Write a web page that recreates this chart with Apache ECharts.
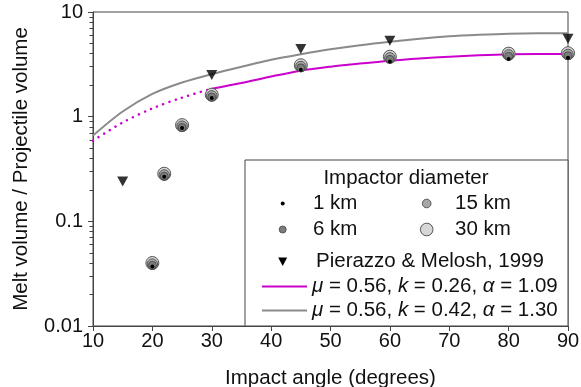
<!DOCTYPE html>
<html>
<head>
<meta charset="utf-8">
<script src="https://cdn.jsdelivr.net/npm/echarts@6/dist/echarts.min.js"></script>
<style>
  html, body { margin: 0; padding: 0; background: #fff; }
  #chart { width: 581px; height: 387px; }
</style>
</head>
<body>
<div id="chart"></div>
<script>
// simulation angles (degrees)
const simAngles = [20, 22, 25, 30, 45, 60, 80, 90];
// melt volume / projectile volume for each impactor diameter
const melt30km = [0.040, 0.285, 0.83, 1.62, 3.10, 3.74, 4.00, 4.04];
const melt15km = [0.039, 0.277, 0.81, 1.58, 3.01, 3.64, 3.89, 3.93];
const melt6km  = [0.038, 0.270, 0.79, 1.54, 2.93, 3.53, 3.78, 3.82];
const melt1km  = [0.037, 0.266, 0.78, 1.51, 2.80, 3.37, 3.56, 3.66];

// Pierazzo & Melosh, 1999
const pmAngles = [15, 30, 45, 60, 90];
const pmMelt   = [0.24, 2.50, 4.43, 5.32, 5.56];

// fitted curves
const fitAngles = [10, 15, 20, 25, 30, 35, 40, 45, 50, 55, 60, 65, 70, 75, 80, 85, 90];
const fitMagenta = [0.59, 0.88, 1.20, 1.52, 1.85, 2.10, 2.42, 2.75, 3.00, 3.22, 3.43, 3.60, 3.74, 3.86, 3.95, 3.98, 3.98];
const fitGray    = [0.66, 1.12, 1.65, 2.12, 2.55, 3.00, 3.50, 3.95, 4.40, 4.82, 5.20, 5.55, 5.85, 6.05, 6.20, 6.25, 6.25];
const dottedUpTo = 30;

const yMinor = [0.02, 0.03, 0.04, 0.05, 0.06, 0.07, 0.08, 0.09,
                0.2, 0.3, 0.4, 0.5, 0.6, 0.7, 0.8, 0.9,
                2, 3, 4, 5, 6, 7, 8, 9];

const nameMagenta = 'μ = 0.56, k = 0.26, α = 1.09';
const nameGray = 'μ = 0.56, k = 0.42, α = 1.30';

const FONT = 'Liberation Sans, Arial, Helvetica, sans-serif';
const AXIS = '#444';
const TXT = '#111';
const MAGENTA = '#cc00cc';
const GRAY = '#8a8a8a';

// circle look for each impactor size: [fill, border, borderWidth]
const look30 = ['#d6d6d6', '#555', 1];
const look15 = ['#a8a8a8', '#555', 1];
const look6  = ['#7c7c7c', '#444', 0.8];
const look1  = ['#000', '#000', 0];

const pairs = (xs, ys) => xs.map((x, i) => [x, ys[i]]);
const fitM = pairs(fitAngles, fitMagenta);

const chart = echarts.init(document.getElementById('chart'));

const circleSeries = (name, vals, size, look) => ({
  name: name,
  type: 'scatter',
  data: pairs(simAngles, vals),
  symbol: 'circle',
  symbolSize: size,
  itemStyle: { color: look[0], borderColor: look[1], borderWidth: look[2], opacity: 1 },
  z: 5
});

const tri = 'path://M0,0 L10,0 L5,9 Z';

// legend block (drawn as graphic, the two fit lines use a real legend)
const keyText = (t, x, y) => ({ type: 'text', x: x, y: y, z: 11, silent: true,
  style: { text: t, fontFamily: FONT, fontSize: 20.5, fill: TXT, verticalAlign: 'middle' } });
const keyDot = (x, y, r, look) => ({ type: 'circle', z: 11, silent: true,
  shape: { cx: x, cy: y, r: r },
  style: { fill: look[0], stroke: look[2] ? look[1] : null, lineWidth: look[2] } });

const option = {
  animation: false,
  grid: { left: 93, right: 13, top: 12, bottom: 61, show: true, borderColor: AXIS, borderWidth: 1,
    outerBoundsMode: 'none', containLabel: false },
  xAxis: {
    type: 'value',
    min: 10, max: 90, interval: 10,
    name: 'Impact angle (degrees)',
    nameLocation: 'middle',
    nameGap: 42,
    nameTextStyle: { fontFamily: FONT, fontSize: 20.5, color: TXT },
    axisLine: { lineStyle: { color: AXIS, width: 1 } },
    axisTick: { show: true, length: 5, lineStyle: { color: AXIS } },
    axisLabel: { fontFamily: FONT, fontSize: 20, color: TXT, margin: 5 },
    splitLine: { show: false }
  },
  yAxis: [
    {
      type: 'log',
      logBase: 10,
      min: 0.01, max: 10,
      name: 'Melt volume / Projectile volume',
      nameLocation: 'middle',
      nameGap: 61,
      nameTextStyle: { fontFamily: FONT, fontSize: 20.5, color: TXT },
      axisLine: { lineStyle: { color: AXIS, width: 1 } },
      axisTick: { show: true, length: 5, lineStyle: { color: AXIS } },
      axisLabel: { fontFamily: FONT, fontSize: 20, color: TXT, margin: 10 },
      splitLine: { show: false }
    },
    {
      // twin axis, only carries the minor log ticks
      type: 'log',
      logBase: 10,
      min: 0.01, max: 10,
      position: 'left',
      offset: 0,
      axisLine: { show: false },
      axisLabel: { show: false },
      axisTick: { show: true, length: 3.5, customValues: yMinor, lineStyle: { color: AXIS, width: 1 } },
      splitLine: { show: false }
    }
  ],
  legend: {
    data: [nameMagenta, nameGray],
    orient: 'vertical',
    left: 262, top: 276,
    padding: 0,
    itemWidth: 45, itemHeight: 2, itemGap: 3,
    icon: 'rect',
    selectedMode: false,
    formatter: n => n.replace(/([μkα])/g, '{i|$1}'),
    textStyle: {
      fontFamily: FONT, fontSize: 20.5, color: TXT, lineHeight: 20,
      rich: { i: { fontFamily: FONT, fontSize: 20.5, color: TXT, fontStyle: 'italic', lineHeight: 20 } }
    },
    z: 10
  },
  graphic: [
    { type: 'rect', shape: { x: 245, y: 160, width: 323, height: 166 },
      style: { fill: '#fff', stroke: AXIS, lineWidth: 1 }, z: 3, silent: true },
    { type: 'text', x: 406, y: 178, z: 11, silent: true,
      style: { text: 'Impactor diameter', fontFamily: FONT, fontSize: 20.5, fill: TXT,
        align: 'center', verticalAlign: 'middle' } },
    keyDot(282.7, 203.5, 2, look1),  keyText('1 km', 313, 203.5),
    keyDot(282.7, 229.5, 3.5, look6), keyText('6 km', 313, 229.5),
    keyDot(426.7, 203.5, 4.3, look15), keyText('15 km', 455, 203.5),
    keyDot(426.7, 229.5, 6.3, look30), keyText('30 km', 455, 229.5),
    { type: 'polygon', z: 11, silent: true,
      shape: { points: [[278.2, 257.5], [287.2, 257.5], [282.7, 266]] },
      style: { fill: '#000' } },
    keyText('Pierazzo & Melosh, 1999', 316, 261.7)
  ],
  series: [
    {
      name: 'magenta dotted',
      type: 'line',
      data: fitM.filter(d => d[0] <= dottedUpTo),
      smooth: 0.3,
      symbol: 'none',
      lineStyle: { color: MAGENTA, width: 2.5, type: [0.1, 6.5], cap: 'round' },
      z: 2
    },
    {
      name: nameMagenta,
      type: 'line',
      data: fitM.filter(d => d[0] >= dottedUpTo),
      smooth: 0.3,
      symbol: 'none',
      itemStyle: { color: MAGENTA },
      lineStyle: { color: MAGENTA, width: 2 },
      z: 2
    },
    {
      name: nameGray,
      type: 'line',
      data: pairs(fitAngles, fitGray),
      smooth: 0.3,
      symbol: 'none',
      itemStyle: { color: GRAY },
      lineStyle: { color: GRAY, width: 2 },
      z: 2
    },
    circleSeries('30 km', melt30km, 13, look30),
    circleSeries('15 km', melt15km, 10.5, look15),
    circleSeries('6 km', melt6km, 8, look6),
    circleSeries('1 km', melt1km, 4, look1),
    {
      name: 'Pierazzo & Melosh, 1999',
      type: 'scatter',
      data: pairs(pmAngles, pmMelt),
      symbol: tri,
      symbolSize: [11, 10],
      itemStyle: { color: '#000' },
      z: 6
    }
  ]
};

option && chart.setOption(option);
</script>
</body>
</html>
